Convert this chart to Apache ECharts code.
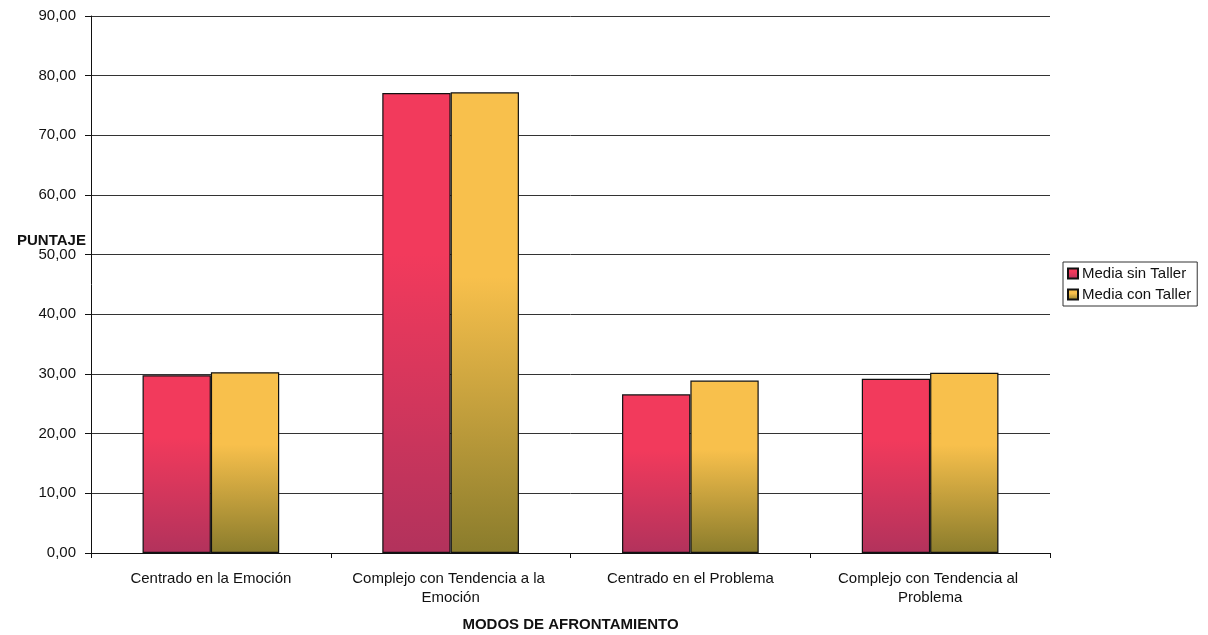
<!DOCTYPE html>
<html>
<head>
<meta charset="utf-8">
<script src="https://cdn.jsdelivr.net/npm/echarts@6/dist/echarts.min.js"></script>
<style>html,body{margin:0;padding:0;background:#fff}#c{width:1208px;height:635px}</style>
</head>
<body>
<div id="c"></div>
<script>
const categories = ['Centrado en la Emoción', 'Complejo con Tendencia a la Emoción', 'Centrado en el Problema', 'Complejo con Tendencia al Problema'];
const seriesNames = ['Media sin Taller', 'Media con Taller'];
const sinTaller = [29.8, 77.1, 26.6, 29.2];
const conTaller = [30.3, 77.2, 28.9, 30.2];
const yTicks = { min: 0, max: 90, interval: 10 };

const FONT = '"Liberation Sans", Arial, sans-serif';
function grad(top, bottom, stop) {
  return new echarts.graphic.LinearGradient(0, 0, 0, 1, [
    { offset: 0, color: top }, { offset: stop, color: top }, { offset: 1, color: bottom }
  ]);
}
const chart = echarts.init(document.getElementById('c'), null, { renderer: 'canvas' });
chart.setOption({
  backgroundColor: '#fff',
  animation: false,
  textStyle: { fontFamily: FONT },
  title: {
    text: 'PUNTAJE', left: 12, top: 228,
    textStyle: { fontFamily: FONT, fontSize: 15, fontWeight: 'bold', color: '#111' }
  },
  grid: { left: 91, right: 158, top: 16, bottom: 82, containLabel: false, outerBoundsMode: 'none' },
  legend: {
    orient: 'vertical', left: 1063, top: 262,
    borderColor: '#333', borderWidth: 1, padding: [4, 6, 4, 4],
    itemWidth: 10, itemHeight: 10, itemGap: 6,
    icon: 'rect',
    textStyle: { fontFamily: FONT, fontSize: 15, color: '#111', lineHeight: 15, padding: [0, 0, 0, -1] },
    data: seriesNames
  },
  xAxis: {
    type: 'category', data: categories,
    axisLine: { lineStyle: { color: '#111', width: 1 } },
    axisTick: { show: true, length: 5, lineStyle: { color: '#111' } },
    axisLabel: { interval: 0, fontFamily: FONT, fontSize: 15, color: '#111', margin: 16, width: 200, overflow: 'break', lineHeight: 19 },
    name: 'MODOS DE AFRONTAMIENTO', nameLocation: 'middle', nameGap: 64,
    nameTextStyle: { fontFamily: FONT, fontSize: 15, fontWeight: 'bold', color: '#111' }
  },
  yAxis: {
    type: 'value', min: yTicks.min, max: yTicks.max, interval: yTicks.interval,
    axisLine: { show: true, lineStyle: { color: '#111', width: 1 } },
    axisTick: { show: true, length: 6, lineStyle: { color: '#111' } },
    splitLine: { show: true, lineStyle: { color: '#333', width: 1 } },
    axisLabel: { fontFamily: FONT, fontSize: 15, color: '#111', margin: 15,
      formatter: v => v.toFixed(2).replace('.', ',') }
  },
  series: [
    { name: seriesNames[0], type: 'bar', data: sinTaller, barGap: '0%', barCategoryGap: '43%',
      itemStyle: { color: grad('#f23a5c', '#b2325c', 0.35), borderColor: '#111', borderWidth: 1.2 } },
    { name: seriesNames[1], type: 'bar', data: conTaller, barGap: '0%', barCategoryGap: '43%',
      itemStyle: { color: grad('#f8c04c', '#8a7c2c', 0.4), borderColor: '#111', borderWidth: 1.2 } }
  ]
});
</script>
</body>
</html>
